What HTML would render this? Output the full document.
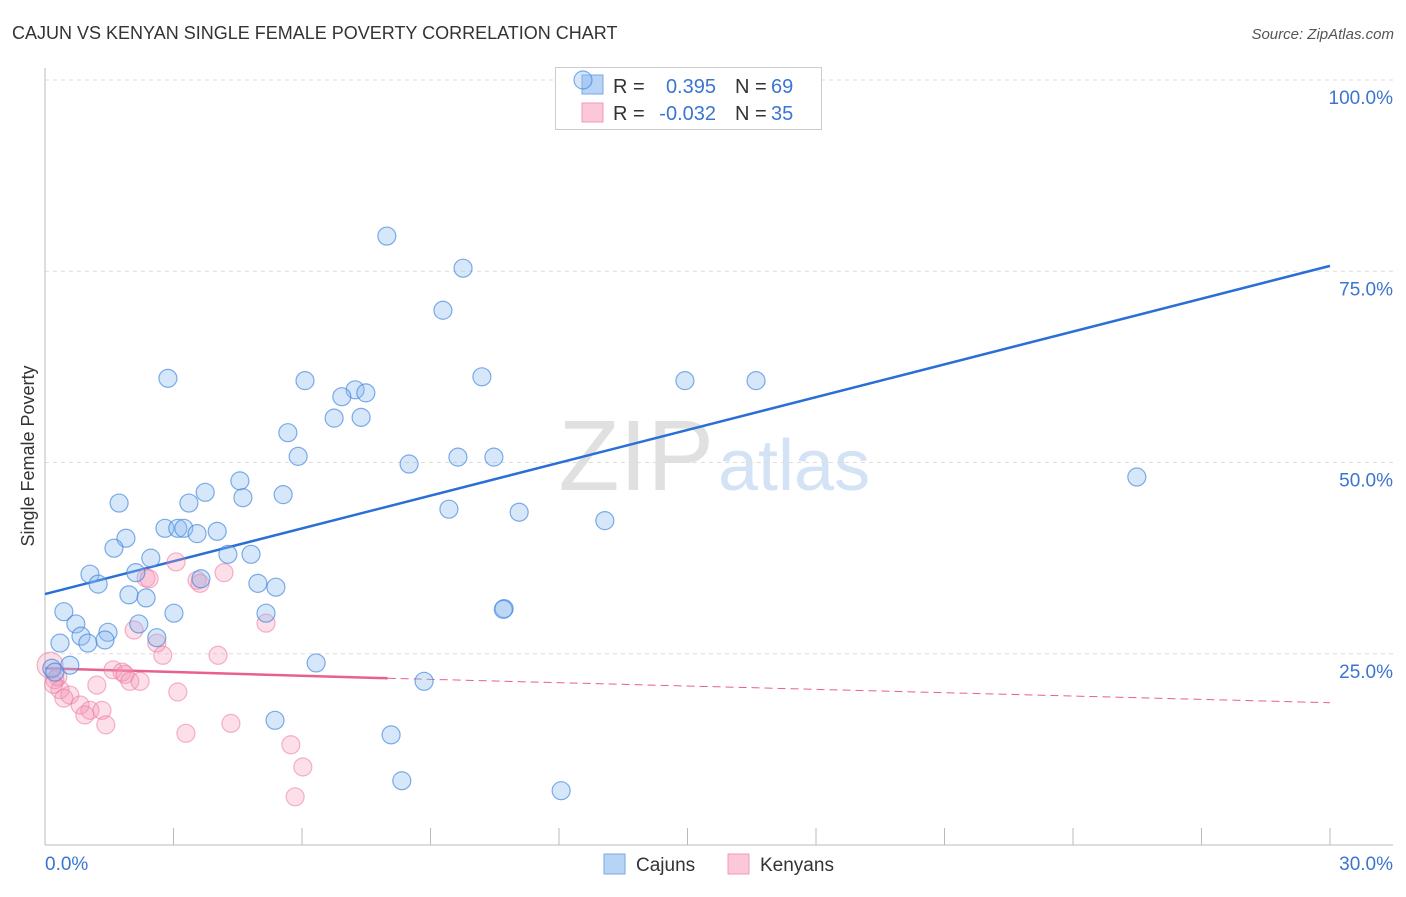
<!DOCTYPE html>
<html><head><meta charset="utf-8"><style>
body{margin:0;background:#fff;font-family:"Liberation Sans",sans-serif}
svg text{font-family:"Liberation Sans",sans-serif}
</style></head><body>
<svg id="chart" width="1406" height="892" xmlns="http://www.w3.org/2000/svg">
<text x="12" y="39" font-size="18" fill="#333">CAJUN VS KENYAN SINGLE FEMALE POVERTY CORRELATION CHART</text>
<text x="1394" y="39" font-size="15" fill="#555" text-anchor="end" font-style="italic">Source: ZipAtlas.com</text>
<text x="714" y="490" font-size="100" fill="#e0e0e0" text-anchor="end" font-family="Liberation Serif">ZIP</text>
<text x="718" y="490" font-size="72" fill="#d3e2f5">atlas</text>
<g id="grid"></g>
<g id="axes"></g>
<g>
<rect x="555.5" y="67.5" width="266" height="62" fill="#fff" stroke="#ccc"/>
<rect x="582" y="75" width="21" height="19" fill="#b7d3f5" stroke="#7aaae6"/>
<rect x="582" y="103" width="21" height="19" fill="#fac8d8" stroke="#f09ab5"/>
<text x="613" y="93" font-size="20" fill="#333">R =</text>
<text x="716" y="93" font-size="20" fill="#3b75d0" text-anchor="end">0.395</text>
<text x="735" y="93" font-size="20" fill="#333">N =</text>
<text x="771" y="93" font-size="20" fill="#3b75d0">69</text>
<text x="613" y="120" font-size="20" fill="#333">R =</text>
<text x="716" y="120" font-size="20" fill="#3b75d0" text-anchor="end">-0.032</text>
<text x="735" y="120" font-size="20" fill="#333">N =</text>
<text x="771" y="120" font-size="20" fill="#3b75d0">35</text>
</g>
<g id="lines"></g>
<g id="pts"></g>
<text transform="translate(34,456) rotate(-90)" font-size="18" fill="#333" text-anchor="middle">Single Female Poverty</text>
<g>
<rect x="604" y="854" width="21" height="20" fill="#b7d3f5" stroke="#7aaae6"/>
<text x="636" y="871" font-size="19" fill="#333">Cajuns</text>
<rect x="728" y="854" width="21" height="20" fill="#fac8d8" stroke="#f09ab5"/>
<text x="760" y="871" font-size="19" fill="#333">Kenyans</text>
</g>
</svg>
<script>
const yTicks=[25,50,75,100];
const xTickLabels=["0.0%","30.0%"];
const cajunX=[12.56,7.98,9.76,9.29,2.87,6.07,10.20,14.94,16.60,7.24,7.49,6.93,6.75,7.38,5.67,5.91,8.50,9.64,10.48,25.49,4.55,3.74,4.62,5.56,1.73,3.36,9.43,11.07,13.07,2.80,3.10,3.24,3.55,4.02,1.89,1.61,2.47,4.27,4.81,1.05,2.12,1.24,3.64,4.97,5.39,1.96,2.36,0.44,3.01,5.16,10.72,0.72,2.19,1.47,0.84,2.61,0.35,1.00,1.40,6.33,0.58,0.16,0.23,8.85,5.37,8.08,8.33,12.05,10.70];
const cajunY=[100,79.6,75.4,69.9,61.0,60.7,61.2,60.7,60.7,59.5,59.1,58.6,55.8,55.9,53.9,50.8,49.8,50.7,50.7,48.1,47.6,46.1,45.4,45.8,44.7,44.7,43.9,43.5,42.4,41.4,41.4,41.4,40.7,41.0,40.1,38.8,37.5,38.0,38.0,35.4,35.6,34.1,34.8,34.2,33.7,32.7,32.3,30.5,30.3,30.3,30.9,28.9,28.9,27.8,27.3,27.1,26.4,26.4,26.8,23.8,23.5,23.1,22.6,21.4,16.3,14.4,8.4,7.1,30.8];
const kenyanX=[3.06,2.36,2.43,3.55,3.62,4.18,2.08,5.16,2.61,2.75,4.04,1.59,1.80,1.87,1.98,2.22,1.21,3.10,0.23,0.35,0.58,0.44,0.82,1.05,1.33,0.93,1.42,3.29,4.34,5.74,6.02,5.84,0.12,0.30,0.20];
const kenyanY=[37.0,34.9,34.8,34.6,34.2,35.6,28.1,29.0,26.4,24.8,24.8,22.9,22.6,22.3,21.4,21.4,20.9,20.0,21.6,20.3,19.6,19.2,18.3,17.6,17.6,17.0,15.7,14.6,15.9,13.1,10.2,6.3,23.5,22.0,21.0];
const cajunTrend=[32.8,75.7];
const kenyanTrend=[23.1,21.8,18.6];
const kenyanSolidEnd=8.0;
const NS="http://www.w3.org/2000/svg";
const X=v=>45+v/30*1285, Y=v=>845-v/100*765;
function mk(t,a,p){const e=document.createElementNS(NS,t);for(const k in a)e.setAttribute(k,a[k]);document.getElementById(p).appendChild(e);return e;}
yTicks.forEach(t=>{
 const l=mk('line',{x1:45,x2:1393,y1:Y(t),y2:Y(t),stroke:'#ddd','stroke-dasharray':'4,4'},'grid');
 
 
 const tx=mk('text',{x:1393,y:Y(t)+24,'font-size':19,fill:'#3b75d0','text-anchor':'end'},'grid');
 tx.textContent=t.toFixed(1)+'%';
 
 
});
mk('line',{x1:45,x2:45,y1:68,y2:845,stroke:'#bbb'},'axes');
mk('line',{x1:45,x2:1393,y1:845,y2:845,stroke:'#bbb'},'axes');
for(let i=0;i<=10;i++){const x=X(i*3);mk('line',{x1:x,x2:x,y1:828,y2:845,stroke:'#bbb'},'axes');}
[0,30].forEach((v,i)=>{const t=mk('text',{x:i?1393:45,y:870,'font-size':19,fill:'#3b75d0','text-anchor':i?'end':'start'},'axes');t.textContent=xTickLabels[i];
 
 });
kenyanX.forEach((v,i)=>{const c=mk('circle',{cx:X(v),cy:Y(kenyanY[i]),r:i==32?13:9,fill:'rgba(245,150,180,0.3)',stroke:'rgba(235,120,160,0.55)','stroke-width':1.2},'pts');
 
 });
cajunX.forEach((v,i)=>{const c=mk('circle',{cx:X(v),cy:Y(cajunY[i]),r:9,fill:'rgba(140,185,240,0.35)',stroke:'rgba(60,130,220,0.65)','stroke-width':1.2},'pts');
 
 });
const b=mk('line',{x1:X(0),y1:Y(cajunTrend[0]),x2:X(30),y2:Y(cajunTrend[1]),stroke:'#2a6fd6','stroke-width':2.5},'lines');


const k=mk('line',{x1:X(0),y1:Y(kenyanTrend[0]),x2:X(kenyanSolidEnd),y2:Y(kenyanTrend[1]),stroke:'#e8608c','stroke-width':2.5},'lines');


const kd=mk('line',{x1:X(kenyanSolidEnd),y1:Y(kenyanTrend[1]),x2:X(30),y2:Y(kenyanTrend[2]),stroke:'#e8608c','stroke-width':1,'stroke-dasharray':'8,5'},'lines');


</script>
</body></html>
